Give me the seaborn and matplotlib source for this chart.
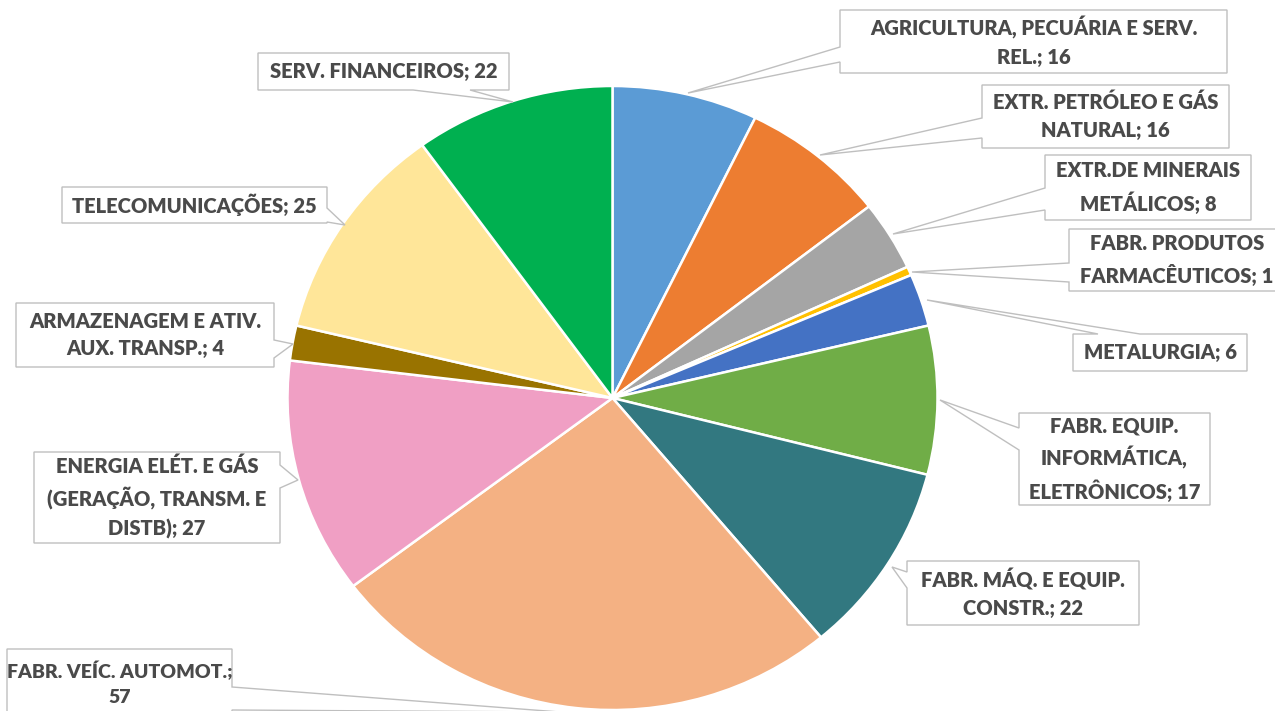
import matplotlib
matplotlib.use("Agg")
import matplotlib.pyplot as plt
import seaborn as sns
from matplotlib.patches import Polygon

# --- dados ---
categories = [
    "AGRICULTURA, PECUÁRIA E SERV.\nREL.",
    "EXTR. PETRÓLEO E GÁS\nNATURAL",
    "EXTR.DE MINERAIS\nMETÁLICOS",
    "FABR. PRODUTOS\nFARMACÊUTICOS",
    "METALURGIA",
    "FABR. EQUIP.\nINFORMÁTICA,\nELETRÔNICOS",
    "FABR. MÁQ. E EQUIP.\nCONSTR.",
    "FABR. VEÍC. AUTOMOT.",
    "ENERGIA ELÉT. E GÁS\n(GERAÇÃO, TRANSM. E\nDISTB)",
    "ARMAZENAGEM E ATIV.\nAUX. TRANSP.",
    "TELECOMUNICAÇÕES",
    "SERV. FINANCEIROS",
]
values = [16, 16, 8, 1, 6, 17, 22, 57, 27, 4, 25, 22]
separators = ["; "] * 7 + [";\n"] + ["; "] * 4

colors = ["#5B9BD5", "#ED7D31", "#A5A5A5", "#FFC000", "#4472C4", "#70AD47",
          "#327880", "#F4B183", "#F09FC4", "#997300", "#FFE699", "#00B050"]

# caixas dos rótulos (pixels): caixa, lado da seta, base da seta, ponta
callouts = [
    ((840, 10, 1227, 73), "left", (47, 62), (688, 93)),
    ((982, 85, 1229, 148), "left", (118, 138), (820, 155)),
    ((1045, 155, 1251, 220), "left", (188, 210), (893, 234)),
    ((1069, 229, 1285, 291), "left", (263, 282), (912, 272)),
    ((1073, 334, 1247, 371), "top", (1098, 1140), (927, 300)),
    ((1019, 413, 1210, 505), "left", (428, 450), (940, 400)),
    ((907, 561, 1139, 625), "left", (572, 588), (892, 567)),
    ((7, 649, 232, 730), "right", (687, 710), (560, 712)),
    ((34, 452, 280, 543), "right", (465, 488), (298, 480)),
    ((16, 303, 274, 367), "right", (340, 358), (293, 344)),
    ((62, 187, 327, 223), "right", (208, 222), (345, 225)),
    ((258, 53, 509, 90), "bottom", (413, 470), (513, 102)),
]

W, H = 1275, 711
CX, CY, RX, RY = 612.5, 398, 325, 312


def px(x, y):
    return ((x - CX) / RX, (CY - y) / RY)


def callout_shape(box, side, base, tip):
    x0, y0, x1, y1 = box
    if side == "left":
        pts = [(x0, y0), (x1, y0), (x1, y1), (x0, y1), (x0, base[1]), tip, (x0, base[0])]
    elif side == "right":
        pts = [(x0, y0), (x1, y0), (x1, base[0]), tip, (x1, base[1]), (x1, y1), (x0, y1)]
    elif side == "top":
        pts = [(x0, y0), (base[0], y0), tip, (base[1], y0), (x1, y0), (x1, y1), (x0, y1)]
    else:
        pts = [(x0, y0), (x1, y0), (x1, y1), (base[1], y1), tip, (base[0], y1), (x0, y1)]
    return [px(*p) for p in pts]


sns.set_style("white")
plt.rcParams['font.family'] = ['Lato', 'DejaVu Sans']

fig = plt.figure(figsize=(W / 100, H / 100), dpi=100)
ax = fig.add_axes([0, 0, 1, 1])
ax.pie(values, colors=colors, startangle=90, counterclock=False, radius=1, frame=True,
       wedgeprops=dict(edgecolor="white", linewidth=1.8))
ax.set_xlim(px(0, 0)[0], px(W, 0)[0])
ax.set_ylim(px(0, H)[1], px(0, 0)[1])
ax.set_aspect("auto")
ax.axis("off")

for (box, side, base, tip), cat, sep, v in zip(callouts, categories, separators, values):
    ax.add_patch(Polygon(callout_shape(box, side, base, tip), closed=True,
                         facecolor="white", edgecolor="#BFBFBF", linewidth=1.0, zorder=5))
    x0, y0, x1, y1 = box
    cy = (y0 + y1) / 2 if y1 <= H else 684
    fs = 14 if y1 > H else 14.5
    ax.text(*px((x0 + x1) / 2, cy), f"{cat}{sep}{v}", ha="center", va="center",
            fontsize=fs, fontweight="heavy", color="#4A4A4A", linespacing=1.55, zorder=6)

fig.savefig("out.png", dpi=100)
